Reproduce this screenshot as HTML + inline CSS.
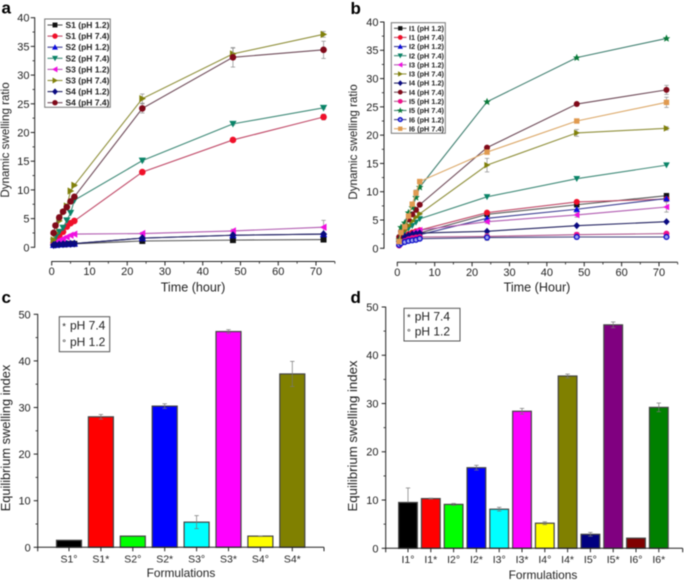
<!DOCTYPE html>
<html lang="en">
<head>
<meta charset="utf-8">
<title>Dynamic swelling and equilibrium swelling charts</title>
<style>
html,body{margin:0;padding:0;background:#fff;width:684px;height:581px;overflow:hidden}
svg{display:block;filter:blur(0.5px)}
text{font-family:"Liberation Sans",Arial,sans-serif;fill:#222}
</style>
</head>
<body>
<svg id="figure" xmlns="http://www.w3.org/2000/svg" width="684" height="581" viewBox="0 0 684 581">
  <rect width="684" height="581" fill="#fff"/>
  <g id="panel-a"></g>
  <g id="panel-b"></g>
  <g id="panel-c"></g>
  <g id="panel-d"></g>
</svg>
<script>
// ---------- shared time axis ----------
const times = [0.5, 1, 2, 3, 4, 5, 6, 24, 48, 72];
const timeTicks = [0, 10, 20, 30, 40, 50, 60, 70];
const ratioTicks = [0, 5, 10, 15, 20, 25, 30, 35, 40];
const indexTicks = [0, 10, 20, 30, 40, 50];

// ---------- panel a values ----------
const s1Ph12 = [0.4, 0.45, 0.5, 0.5, 0.55, 0.6, 0.6, 1.1, 1.25, 1.35];
const s1Ph74 = [0.8, 1.2, 2, 2.7, 3.6, 4.2, 4.6, 13.1, 18.7, 22.7];
const s2Ph12 = [0.4, 0.45, 0.5, 0.55, 0.6, 0.6, 0.65, 1.6, 2.1, 2.3];
const s2Ph74 = [1, 1.8, 2.7, 3.4, 4.7, 6, 8.2, 15.1, 21.5, 24.3];
const s3Ph12 = [0.6, 0.9, 1.2, 1.5, 1.8, 2.1, 2.3, 2.4, 2.85, 3.5];
const s3Ph74 = [1.3, 2.5, 4.6, 6, 7.2, 9.8, 10.8, 25.9, 33.7, 37.1];
const s4Ph12 = [0.4, 0.45, 0.5, 0.55, 0.6, 0.6, 0.65, 1.6, 2.1, 2.3];
const s4Ph74 = [2.5, 3.8, 5.2, 6.2, 7, 8, 8.8, 24.2, 33.1, 34.4];
const s1Err = [0, 0, 0, 0, 0, 0, 0, 0.2, 0.2, 0.2];
const s1bErr = [0, 0, 0, 0, 0, 0, 0, 0.2, 0.2, 0.5];
const s3Err = [0, 0, 0, 0, 0, 0, 0, 0.2, 0.3, 1.2];
const s3bErr = [0, 0, 0, 0, 0, 0, 0.2, 0.8, 1, 0.5];
const s4bErr = [0, 0, 0, 0, 0, 0, 0.2, 0.8, 1.7, 1.5];
const noErr = [0, 0, 0, 0, 0, 0, 0, 0, 0, 0];

// ---------- panel b values ----------
const i1Ph12 = [1, 1.4, 1.8, 2.1, 2.3, 2.5, 2.7, 6, 7.7, 9.3];
const i1Ph74 = [1.2, 1.7, 2.2, 2.5, 2.8, 3, 3.2, 6.3, 8.2, 8.7];
const i2Ph12 = [0.8, 1.2, 1.5, 1.8, 2, 2.2, 2.4, 5.3, 6.9, 8.8];
const i2Ph74 = [1, 2, 3, 3.5, 4, 4.6, 5.2, 9.1, 12.3, 14.7];
const i3Ph12 = [0.9, 1.4, 1.9, 2.3, 2.7, 3, 3.2, 4.7, 5.9, 7.3];
const i3Ph74 = [1.2, 2.2, 3.2, 4, 4.8, 5.5, 6.1, 14.7, 20.4, 21.2];
const i4Ph12 = [1.2, 1.7, 2.1, 2.3, 2.5, 2.6, 2.7, 3, 4, 4.7];
const i4Ph74 = [2, 3, 4, 5.1, 6, 6.8, 7.7, 17.8, 25.5, 28];
const i5Ph12 = [0.5, 0.9, 1.3, 1.6, 1.8, 1.9, 2, 2.1, 2.4, 2.6];
const i5Ph74 = [1.5, 3.7, 4.5, 6.3, 7.2, 9, 10.8, 25.9, 33.7, 37.1];
const i6Ph12 = [0.6, 0.9, 1.1, 1.3, 1.4, 1.5, 1.7, 1.9, 2, 2];
const i6Ph74 = [1.2, 2.8, 3.8, 5.7, 7.8, 9.8, 11.8, 17, 22.5, 25.8];
const i3bErr = [0, 0, 0, 0, 0, 0, 0.2, 1.2, 0.6, 0.3];
const i3aErr = [0, 0, 0, 0, 0, 0, 0, 0.3, 0.4, 0.9];
const i4bErr = [0, 0, 0, 0, 0, 0, 0.2, 0.3, 0.3, 0.8];
const i6bErr = [0, 0, 0, 0, 0, 0.5, 0.3, 0.3, 0.3, 0.9];
const i6aErr = [0, 0, 0, 0, 0, 0, 0, 0.5, 0.4, 0.2];

// ---------- panel c values ----------
const formulationsC = ['S1°', 'S1*', 'S2°', 'S2*', 'S3°', 'S3*', 'S4°', 'S4*'];
const indexC = [1.5, 28, 2.4, 30.3, 5.4, 46.3, 2.4, 37.2];
const indexErrC = [0, 0.5, 0, 0.5, 1.4, 0.4, 0.05, 2.7];

// ---------- panel d values ----------
const formulationsD = ['I1°', 'I1*', 'I2°', 'I2*', 'I3°', 'I3*', 'I4°', 'I4*', 'I5°', 'I5*', 'I6°', 'I6*'];
const indexD = [9.5, 10.3, 9.1, 16.7, 8.1, 28.4, 5.2, 35.7, 2.9, 46.3, 2.1, 29.2];
const indexErrD = [3, 0.1, 0.2, 0.5, 0.4, 0.6, 0.3, 0.4, 0.4, 0.6, 0, 0.9];

const barColorsC = ['#000', '#f00', '#0f0', '#00f', '#0ff', '#f0f', '#ff0', '#808000'];
const barColorsD = ['#000', '#f00', '#0f0', '#00f', '#0ff', '#f0f', '#ff0', '#808000', '#000080', '#800080', '#800000', '#008000'];

const NS = 'http://www.w3.org/2000/svg';
const AX = '#222';

function el(tag, attrs, parent) {
  const n = document.createElementNS(NS, tag);
  for (const k in attrs) n.setAttribute(k, attrs[k]);
  parent.appendChild(n);
  return n;
}
function line(parent, name, x1, y1, x2, y2, stroke, w) {
  const n = el('line', {x1, y1, x2, y2, stroke, 'stroke-width': w}, parent);
  
  
  return n;
}
function label(parent, name, str, x, y, size, anchor, extra) {
  const n = el('text', Object.assign({x, y, 'font-size': size, 'text-anchor': anchor}, extra || {}), parent);
  n.textContent = str;
  
  
  return n;
}
function vtitle(parent, name, str, x, y, size) {
  return label(parent, name, str, x, y, size, 'middle', {transform: 'rotate(-90 ' + x + ' ' + y + ')'});
}
function linear(d0, d1, r0, r1) {
  return v => r0 + (v - d0) * (r1 - r0) / (d1 - d0);
}
function poly(cx, cy, pts) {
  return pts.map(p => (cx + p[0]).toFixed(2) + ',' + (cy + p[1]).toFixed(2)).join(' ');
}
function marker(parent, kind, cx, cy, fill, r) {
  let n;
  if (kind === 'square') {
    n = el('rect', {x: cx - r * 0.9, y: cy - r * 0.9, width: r * 1.8, height: r * 1.8, fill}, parent);
  } else if (kind === 'circle') {
    n = el('circle', {cx, cy, r, fill}, parent);
  } else if (kind === 'halfcircle') {
    n = el('circle', {cx, cy, r: r * 0.8, fill: '#9aa0ee', stroke: fill, 'stroke-width': 1.3}, parent);
  } else if (kind === 'up') {
    n = el('polygon', {points: poly(cx, cy, [[0, -r * 1.1], [r * 1.1, r * 0.9], [-r * 1.1, r * 0.9]]), fill}, parent);
  } else if (kind === 'down') {
    n = el('polygon', {points: poly(cx, cy, [[0, r * 1.1], [r * 1.1, -r * 0.9], [-r * 1.1, -r * 0.9]]), fill}, parent);
  } else if (kind === 'left') {
    n = el('polygon', {points: poly(cx, cy, [[-r * 1.1, 0], [r * 0.9, -r * 1.1], [r * 0.9, r * 1.1]]), fill}, parent);
  } else if (kind === 'right') {
    n = el('polygon', {points: poly(cx, cy, [[r * 1.1, 0], [-r * 0.9, -r * 1.1], [-r * 0.9, r * 1.1]]), fill}, parent);
  } else if (kind === 'diamond') {
    n = el('polygon', {points: poly(cx, cy, [[0, -r * 1.2], [r * 1.1, 0], [0, r * 1.2], [-r * 1.1, 0]]), fill}, parent);
  } else if (kind === 'star') {
    n = el('polygon', {points: poly(cx, cy, [[0, -r * 1.3], [r * 0.4, -r * 0.4], [r * 1.25, -r * 0.4], [r * 0.6, r * 0.2], [r * 0.8, r * 1.1], [0, r * 0.6], [-r * 0.8, r * 1.1], [-r * 0.6, r * 0.2], [-r * 1.25, -r * 0.4], [-r * 0.4, -r * 0.4]]), fill}, parent);
  }
  
  
  return n;
}

function yAxis(parent, x, sy, ticks, minorStep, labelX, size) {
  const top = sy(ticks[ticks.length - 1]);
  const bottom = sy(ticks[0]);
  line(parent, 'y-axis-line', x, top - 0.4, x, bottom + 0.4, AX, 1);
  ticks.forEach((t, i) => {
    line(parent, 'y-axis-tick', x - 4, sy(t), x, sy(t), AX, 1);
    label(parent, 'y-tick-label', String(t), labelX, sy(t) + size * 0.36, size, 'end');
    if (minorStep && i < ticks.length - 1) {
      line(parent, 'y-axis-minor-tick', x - 2.2, sy(t + minorStep), x, sy(t + minorStep), AX, 0.8);
    }
  });
}

function lineChart(group, cfg) {
  const sx = linear(0, 70, cfg.x0, cfg.x70);
  const sy = linear(0, 40, cfg.y0, cfg.y40);
  yAxis(group, cfg.yAxisX, sy, ratioTicks, 2.5, cfg.yLabelX, 11);
  line(group, 'x-axis-line', sx(0) - 0.4, cfg.xAxisY, sx(75), cfg.xAxisY, AX, 1);
  timeTicks.forEach(t => {
    line(group, 'x-axis-tick', sx(t), cfg.xAxisY, sx(t), cfg.xAxisY + 4, AX, 1);
    line(group, 'x-axis-minor-tick', sx(t + 5), cfg.xAxisY, sx(t + 5), cfg.xAxisY + 2.2, AX, 0.8);
    label(group, 'x-tick-label', String(t), sx(t), cfg.xAxisY + 13.5, 11, 'middle');
  });
  cfg.series.forEach(s => {
    const g = el('g', {}, group);
    
    
    s.values.forEach((v, i) => {
      if (s.errors[i] > 0) {
        const x = sx(times[i]);
        line(g, 'error-bar', x, sy(v - s.errors[i]), x, sy(v + s.errors[i]), '#8a8a8a', 0.7);
        line(g, 'error-cap', x - 2.2, sy(v + s.errors[i]), x + 2.2, sy(v + s.errors[i]), '#8a8a8a', 0.7);
        line(g, 'error-cap', x - 2.2, sy(v - s.errors[i]), x + 2.2, sy(v - s.errors[i]), '#8a8a8a', 0.7);
      }
    });
    const pl = el('polyline', {points: s.values.map((v, i) => sx(times[i]).toFixed(2) + ',' + sy(v).toFixed(2)).join(' '), fill: 'none', stroke: s.line, 'stroke-width': 1.1}, g);
    
    
    s.values.forEach((v, i) => marker(g, s.marker, sx(times[i]), sy(v), s.color, cfg.r));
  });
  // legend
  const lg = el('g', {}, group);
  
  
  const L = cfg.legend;
  const box = el('rect', {x: L.x, y: L.y, width: L.w, height: L.h, fill: '#fff', stroke: '#777', 'stroke-width': 1}, lg);
  
  
  cfg.series.forEach((s, i) => {
    const y = L.first + i * L.step;
    line(lg, 'legend-line', L.lineX0, y, L.lineX1, y, s.line, 1.1);
    marker(lg, s.marker, (L.lineX0 + L.lineX1) / 2, y, s.color, L.r);
    label(lg, 'legend-entry', s.label, L.textX, y + L.size * 0.36, L.size, 'start', {'font-weight': 'bold', 'textLength': L.textW, 'lengthAdjust': 'spacingAndGlyphs'});
  });
}

function noteLine(parent, name, symbol, rest, x, textX, y, size) {
  const t = el('text', {y, 'font-size': size}, parent);
  
  
  const a = el('tspan', {x, 'font-size': size * 0.8}, t);
  a.textContent = symbol;
  const b = el('tspan', {x: textX}, t);
  b.textContent = rest;
}

function barChart(group, cfg) {
  const sy = linear(0, 50, cfg.y0, cfg.y50);
  const cx = i => cfg.firstX + i * cfg.stepX;
  cfg.values.forEach((v, i) => {
    const b = el('rect', {x: cx(i) - cfg.barW / 2, y: sy(v), width: cfg.barW, height: cfg.y0 - sy(v), fill: cfg.colors[i], stroke: '#444', 'stroke-width': 1.2}, group);
    
    
    const e = cfg.errors[i];
    if (e > 0) {
      const low = cfg.upOnly && i === 0 ? v : v - e;
      line(group, 'error-bar', cx(i), sy(low), cx(i), sy(v + e), '#777', 0.7);
      line(group, 'error-cap', cx(i) - 2.2, sy(v + e), cx(i) + 2.2, sy(v + e), '#777', 0.7);
      if (low !== v) line(group, 'error-cap', cx(i) - 2.2, sy(low), cx(i) + 2.2, sy(low), '#777', 0.7);
    }
    line(group, 'x-axis-tick', cx(i), cfg.y0, cx(i), cfg.y0 + 4, AX, 1);
    label(group, 'x-tick-label', cfg.cats[i], cx(i), cfg.xLabelY, 10.5, 'middle');
  });
  yAxis(group, cfg.yAxisX, sy, indexTicks, cfg.minor, cfg.yLabelX, 11);
  line(group, 'x-axis-line', cfg.yAxisX, cfg.y0, cfg.xEnd, cfg.y0, AX, 1);
  line(group, 'x-axis-tick', cfg.yAxisX, cfg.y0, cfg.yAxisX, cfg.y0 + 4, AX, 1);
  line(group, 'x-axis-tick', cfg.xEnd, cfg.y0, cfg.xEnd, cfg.y0 + 4, AX, 1);
  const n = cfg.note;
  const nb = el('rect', {x: n.x, y: n.y, width: n.w, height: n.h, fill: '#fff', stroke: '#555', 'stroke-width': 1}, group);
  
  
  noteLine(group, 'ph-key-base', '*', 'pH 7.4', n.x + 3, n.x + n.textDx, n.y1, n.size);
  noteLine(group, 'ph-key-acid', '°', 'pH 1.2', n.x + 3, n.x + n.textDx, n.y2, n.size);
}

// ---------- build panels ----------
const pa = document.getElementById('panel-a');
const pb = document.getElementById('panel-b');
const pc = document.getElementById('panel-c');
const pd = document.getElementById('panel-d');

lineChart(pa, {
  x0: 51.7, x70: 316, y0: 247.3, y40: 17.7, yAxisX: 34.7, yLabelX: 29.5, xAxisY: 261.5, r: 3.3,
  series: [
    {label: 'S1 (pH 1.2)', values: s1Ph12, errors: s1Err, color: '#111', line: '#555', marker: 'square'},
    {label: 'S1 (pH 7.4)', values: s1Ph74, errors: s1bErr, color: '#f0102a', line: '#c04a68', marker: 'circle'},
    {label: 'S2 (pH 1.2)', values: s2Ph12, errors: noErr, color: '#0a0ae0', line: '#3a3a90', marker: 'up'},
    {label: 'S2 (pH 7.4)', values: s2Ph74, errors: s1Err, color: '#0a8468', line: '#3f8a78', marker: 'down'},
    {label: 'S3 (pH 1.2)', values: s3Ph12, errors: s3Err, color: '#f010e0', line: '#b05ab0', marker: 'left'},
    {label: 'S3 (pH 7.4)', values: s3Ph74, errors: s3bErr, color: '#80800a', line: '#8f8f3a', marker: 'right'},
    {label: 'S4 (pH 1.2)', values: s4Ph12, errors: noErr, color: '#0a0a80', line: '#20205f', marker: 'diamond'},
    {label: 'S4 (pH 7.4)', values: s4Ph74, errors: s4bErr, color: '#800a1a', line: '#6e4a58', marker: 'circle'}
  ],
  legend: {x: 44.7, y: 19, w: 65.6, h: 88.3, first: 25, step: 11.1, lineX0: 47.5, lineX1: 62.5, textX: 65.5, textW: 44, size: 8.4, r: 2.7}
});
vtitle(pa, 'y-axis-title', 'Dynamic swelling ratio', 8.8, 140, 11.6);
label(pa, 'x-axis-title', 'Time (hour)', 193, 291.5, 12.6, 'middle');
label(pa, 'panel-label-a', 'a', 1.5, 13.5, 17, 'start', {'font-weight': 'bold', style: 'fill:#000'});

lineChart(pb, {
  x0: 397.3, x70: 659, y0: 248.3, y40: 22, yAxisX: 384, yLabelX: 378.5, xAxisY: 262.3, r: 3,
  series: [
    {label: 'I1 (pH 1.2)', values: i1Ph12, errors: noErr, color: '#111', line: '#555', marker: 'square'},
    {label: 'I1 (pH 7.4)', values: i1Ph74, errors: noErr, color: '#f0102a', line: '#c04a68', marker: 'circle'},
    {label: 'I2 (pH 1.2)', values: i2Ph12, errors: noErr, color: '#0a0ae0', line: '#3a3a90', marker: 'up'},
    {label: 'I2 (pH 7.4)', values: i2Ph74, errors: noErr, color: '#0a8468', line: '#3f8a78', marker: 'down'},
    {label: 'I3 (pH 1.2)', values: i3Ph12, errors: i3aErr, color: '#f010e0', line: '#b05ab0', marker: 'left'},
    {label: 'I3 (pH 7.4)', values: i3Ph74, errors: i3bErr, color: '#80800a', line: '#8f8f3a', marker: 'right'},
    {label: 'I4 (pH 1.2)', values: i4Ph12, errors: noErr, color: '#0a0a80', line: '#20205f', marker: 'diamond'},
    {label: 'I4 (pH 7.4)', values: i4Ph74, errors: i4bErr, color: '#800a1a', line: '#6e4a58', marker: 'circle'},
    {label: 'I5 (pH 1.2)', values: i5Ph12, errors: i6aErr, color: '#f0108a', line: '#b05a90', marker: 'circle'},
    {label: 'I5 (pH 7.4)', values: i5Ph74, errors: noErr, color: '#0a7a3a', line: '#3f7f70', marker: 'star'},
    {label: 'I6 (pH 1.2)', values: i6Ph12, errors: i6aErr, color: '#0a0ac8', line: '#40407a', marker: 'halfcircle'},
    {label: 'I6 (pH 7.4)', values: i6Ph74, errors: i6bErr, color: '#e09a50', line: '#dca868', marker: 'square'}
  ],
  legend: {x: 391.3, y: 22.7, w: 54, h: 110.6, first: 28.3, step: 9.13, lineX0: 394, lineX1: 406.5, textX: 409, textW: 35, size: 7.4, r: 2.4}
});
vtitle(pb, 'y-axis-title', 'Dynamic swelling ratio', 357, 142, 11.6);
label(pb, 'x-axis-title', 'Time (Hour)', 537, 291.5, 12.6, 'middle');
label(pb, 'panel-label-b', 'b', 350.5, 14, 17, 'start', {'font-weight': 'bold', style: 'fill:#000'});

barChart(pc, {
  y0: 547.3, y50: 314.3, yAxisX: 37.7, yLabelX: 30.7, xEnd: 324, minor: 5,
  firstX: 69, stepX: 31.9, barW: 25, xLabelY: 562.7,
  values: indexC, errors: indexErrC, colors: barColorsC, cats: formulationsC,
  note: {x: 59.3, y: 316.7, w: 50.4, h: 35, textDx: 10.7, y1: 329.5, y2: 346, size: 12}
});
vtitle(pc, 'y-axis-title', 'Equilibrium swelling index', 9.8, 438, 12.8);
label(pc, 'x-axis-title', 'Formulations', 181, 577, 11.9, 'middle');
label(pc, 'panel-label-c', 'c', 1.5, 303, 17, 'start', {'font-weight': 'bold', style: 'fill:#000'});

barChart(pd, {
  y0: 548.3, y50: 307, yAxisX: 385.7, yLabelX: 378.5, xEnd: 682.7, minor: 5,
  firstX: 408, stepX: 22.8, barW: 18.7, xLabelY: 563, upOnly: true,
  values: indexD, errors: indexErrD, colors: barColorsD, cats: formulationsD,
  note: {x: 404, y: 308.3, w: 56, h: 32.7, textDx: 10.7, y1: 320.5, y2: 335.5, size: 12}
});
vtitle(pd, 'y-axis-title', 'Equilibrium swelling index', 357, 436, 13.2);
label(pd, 'x-axis-title', 'Formulations', 543, 579, 11.9, 'middle');
label(pd, 'panel-label-d', 'd', 350.5, 303, 17, 'start', {'font-weight': 'bold', style: 'fill:#000'});
</script>
</body>
</html>
